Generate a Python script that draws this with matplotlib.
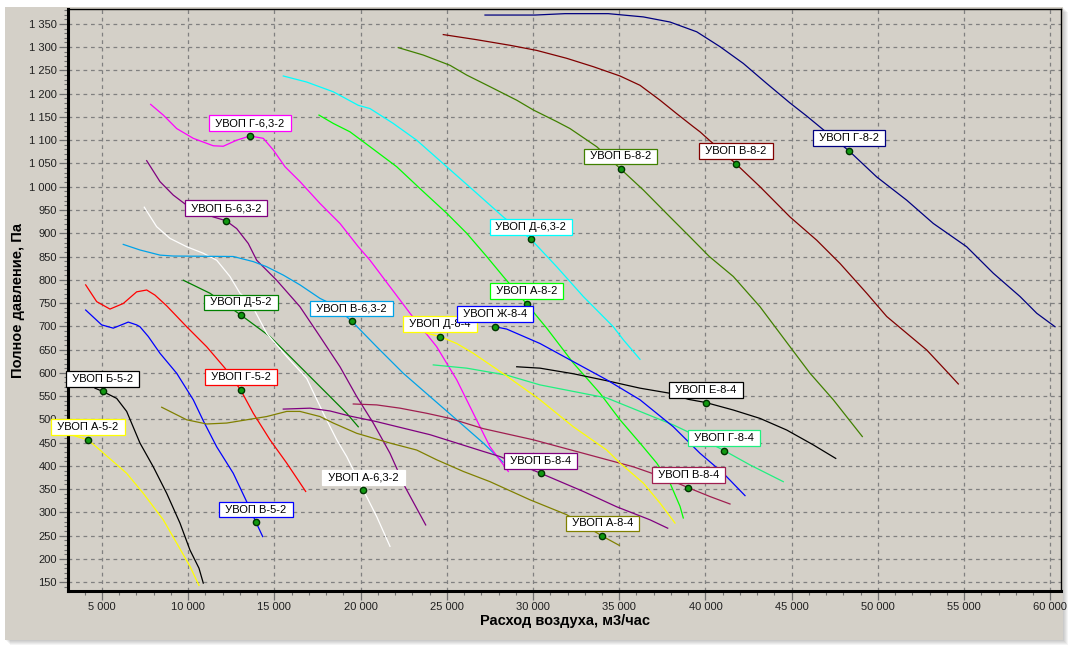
import matplotlib
matplotlib.use('Agg')
import matplotlib.pyplot as plt
from matplotlib.patches import Rectangle
from matplotlib.ticker import MultipleLocator, FuncFormatter

plt.rcParams['font.family'] = ['Liberation Sans', 'DejaVu Sans']

# Кривые вентиляторов: расход (м3/ч) и полное давление (Па)
a52_q = [3100, 4188, 4884, 6432, 7395, 8555, 9333, 10104, 10626]
a52_p = [468, 456, 434, 384, 341, 284, 234, 184, 143]

b52_q = [4594, 5040, 5853, 6432, 7204, 7975, 8753, 9524, 10104, 10626, 10875]
b52_p = [567, 560, 545, 517, 449, 398, 341, 277, 219, 180, 148]

v52_q = [4055, 4983, 5655, 6525, 7011, 7204, 7687, 8364, 9333, 10295, 10875,
         11653, 12615, 13393, 13932, 14320]
v52_p = [735, 703, 696, 709, 703, 699, 678, 642, 599, 542, 497,
         441, 384, 323, 279, 248]

g52_q = [4055, 4693, 5464, 6235, 7011, 7593, 8074, 8753, 9913, 11073, 12134,
         13045, 13777, 14744, 15713, 16815]
g52_p = [789, 753, 737, 749, 774, 778, 767, 744, 699, 656, 610,
         563, 513, 456, 406, 345]

d52_q = [9717, 11264, 13062, 14744, 15904, 17064, 18224, 19193, 19865]
d52_p = [799, 771, 724, 678, 635, 592, 549, 513, 484]

a632_q = [7453, 8173, 8944, 9913, 10875, 11653, 12424, 13004, 13584, 14553,
          15713, 16873, 17838, 18615, 19193, 20155, 20933, 21704]
a632_p = [956, 914, 889, 871, 857, 842, 807, 771, 753, 685,
          635, 588, 513, 456, 420, 348, 291, 227]

b632_q = [7593, 8364, 9135, 9814, 11455, 12192, 12813, 13485, 13973, 15131,
          16484, 17644, 18804, 19773, 20735, 21704, 22574, 23775]
b632_p = [1056, 1011, 982, 963, 935, 927, 910, 878, 842, 799,
          742, 678, 613, 549, 492, 427, 355, 273]

v632_q = [6235, 7204, 8364, 9135, 12615, 13777, 14553, 15517, 16484, 17644,
          18417, 19484, 20933, 22475, 24024, 25573, 27115, 28258]
v632_p = [876, 864, 853, 851, 850, 839, 828, 810, 789, 760,
          746, 711, 656, 599, 549, 499, 449, 408]

g632_q = [7823, 8555, 9333, 10295, 11455, 12035, 12813, 13584, 14356, 14936,
          15614, 16484, 17644, 18804, 19865, 20544, 21704, 22864, 24413, 25573,
          26535, 27504, 28566]
g632_p = [1177, 1154, 1125, 1104, 1088, 1087, 1100, 1109, 1104, 1079,
          1043, 1011, 964, 921, 871, 842, 785, 728, 656, 585,
          513, 441, 388]

d632_q = [15517, 16873, 18417, 19865, 20544, 21895, 23253, 24993, 26733, 28275,
          29882, 31373, 32915, 34655, 35237, 36204]
d632_p = [1238, 1225, 1204, 1175, 1168, 1136, 1100, 1043, 986, 935,
          887, 828, 764, 699, 671, 629]

a82_q = [17586, 18417, 19384, 20544, 22093, 23444, 24993, 26153, 27313, 28275,
         29633, 30793, 32337, 33884, 35044, 36204, 37173, 37944, 38524, 38715]
a82_p = [1154, 1136, 1118, 1086, 1043, 996, 943, 900, 850, 807,
         748, 696, 621, 556, 499, 449, 406, 363, 313, 288]

b82_q = [22185, 23635, 25184, 26153, 27504, 29053, 30015, 31373, 32144, 33693,
         35085, 36395, 37944, 39104, 40223, 41615, 43164, 44904, 46064, 47415,
         49097]
b82_p = [1299, 1283, 1261, 1240, 1215, 1186, 1165, 1140, 1125, 1086,
         1038, 993, 935, 892, 850, 807, 742, 656, 599, 542,
         463]

v82_q = [24795, 26733, 28664, 30213, 31953, 33495, 35044, 36204, 37364, 38333,
         39295, 39684, 40223, 40844, 41772, 43164, 44904, 46453, 47804, 49352,
         50513, 52833, 53993, 54665]
v82_p = [1327, 1316, 1304, 1293, 1276, 1258, 1238, 1218, 1186, 1157,
         1129, 1118, 1100, 1080, 1049, 1000, 935, 885, 835, 771,
         721, 649, 603, 576]

g82_q = [27214, 30114, 31854, 34365, 36395, 37944, 39493, 40844, 42195, 43549,
         44904, 45869, 48326, 49933, 51673, 53215, 55149, 56695, 58244, 59213,
         60274]
g82_p = [1369, 1369, 1372, 1372, 1365, 1354, 1333, 1301, 1265, 1222,
         1180, 1152, 1077, 1021, 971, 921, 871, 814, 764, 728,
         699]

a84_q = [8463, 9913, 11073, 12233, 13393, 14553, 15713, 16484, 17644, 18417,
         19773, 21704, 23253, 24413, 25955, 27504, 29824, 31953, 34017, 35004]
a84_p = [526, 499, 490, 492, 499, 506, 517, 517, 506, 492,
         470, 449, 434, 413, 388, 366, 327, 295, 249, 229]

b84_q = [15515, 17064, 18224, 19384, 20933, 22475, 24024, 25573, 27115, 28084,
         30445, 32915, 34851, 36784, 37811]
b84_p = [522, 524, 518, 507, 495, 481, 467, 449, 431, 420,
         384, 345, 312, 284, 266]

v84_q = [19575, 20933, 22284, 23833, 25184, 27115, 30015, 32915, 35815, 37750,
         39005, 40264, 41424]
v84_p = [533, 531, 524, 513, 502, 480, 456, 427, 398, 373,
         353, 334, 318]

g84_q = [24215, 26153, 28473, 30404, 32335, 34273, 36204, 38135, 39104, 41076,
         42584, 44515]
g84_p = [617, 610, 595, 574, 560, 546, 517, 488, 471, 433, 402, 366]

d84_q = [23833, 24604, 25573, 26535, 28473, 30404, 32335, 34273, 35044, 36395,
         37364, 38234]
d84_p = [685, 678, 663, 642, 593, 542, 484, 434, 406, 363, 320, 277]

e84_q = [29053, 30404, 32335, 34273, 36204, 37944, 39005, 40032, 41615, 43164,
         44713, 46257, 47555]
e84_p = [613, 610, 598, 583, 567, 556, 543, 536, 520, 502, 477, 445, 416]

zh84_q = [27794, 28473, 30404, 32335, 34273, 36204, 38135, 39684, 41037, 42294]
zh84_p = [699, 694, 663, 624, 585, 542, 484, 427, 384, 336]

# Подписи, рабочие точки и цвета
names = ['УВОП А-5-2', 'УВОП Б-5-2', 'УВОП В-5-2', 'УВОП Г-5-2', 'УВОП Д-5-2',
         'УВОП А-6,3-2', 'УВОП Б-6,3-2', 'УВОП В-6,3-2', 'УВОП Г-6,3-2',
         'УВОП Д-6,3-2', 'УВОП А-8-2', 'УВОП Б-8-2', 'УВОП В-8-2', 'УВОП Г-8-2',
         'УВОП А-8-4', 'УВОП Б-8-4', 'УВОП В-8-4', 'УВОП Г-8-4', 'УВОП Д-8-4',
         'УВОП Е-8-4', 'УВОП Ж-8-4']
curves = [(a52_q, a52_p), (b52_q, b52_p), (v52_q, v52_p), (g52_q, g52_p),
          (d52_q, d52_p), (a632_q, a632_p), (b632_q, b632_p), (v632_q, v632_p),
          (g632_q, g632_p), (d632_q, d632_p), (a82_q, a82_p), (b82_q, b82_p),
          (v82_q, v82_p), (g82_q, g82_p), (a84_q, a84_p), (b84_q, b84_p),
          (v84_q, v84_p), (g84_q, g84_p), (d84_q, d84_p), (e84_q, e84_p),
          (zh84_q, zh84_p)]
point_q = [4188, 5040, 13932, 13045, 13062, 20155, 12192, 19484, 13584, 29882,
           29633, 35085, 41772, 48326, 34017, 30445, 39005, 41076, 24604, 40032,
           27794]
point_p = [456, 560, 279, 563, 724, 348, 927, 711, 1109, 887,
           748, 1038, 1049, 1077, 249, 384, 353, 433, 678, 536,
           699]
colors = ['#FFFF00', '#000000', '#0000FF', '#FF0000', '#008000',
          '#FFFFFF', '#800080', '#00A2E8', '#FF00FF', '#00FFFF',
          '#00FF00', '#408000', '#800000', '#000080',
          '#808000', '#800080', '#A01E50', '#20F080', '#FFFF00',
          '#000000', '#0000FF']

grey = '#D4D0C8'
fig = plt.figure(figsize=(10.69, 6.47), dpi=100, facecolor='white')

# Серая панель с тенью
for i in range(1, 6):
    fig.patches.append(Rectangle((5 / 1069 + i / 1069, 7 / 647 - i / 647),
                                 1058 / 1069, 633 / 647, transform=fig.transFigure,
                                 facecolor='#000000', alpha=0.045, edgecolor='none',
                                 zorder=-2))
fig.patches.append(Rectangle((5 / 1069, 7 / 647), 1058 / 1069, 633 / 647,
                             transform=fig.transFigure, facecolor=grey,
                             edgecolor='none', zorder=-1))

ax = fig.add_axes([68 / 1069, 56 / 647, 993 / 1069, 582 / 647])
ax.set_facecolor(grey)

for (q, p), c in zip(curves, colors):
    ax.plot(q, p, color=c, lw=0.9, zorder=3)

ax.plot(point_q, point_p, 'o', ms=4.5, mfc='#119911', mec='#003300', mew=1,
        ls='none', zorder=5)

for name, q, p, c in zip(names, point_q, point_p, colors):
    ax.annotate(' ' + name + ' ', (q, p), xytext=(0, 5.5), textcoords='offset points',
                ha='center', va='bottom', fontsize=8, color='black', zorder=6,
                bbox=dict(boxstyle='square,pad=0.26', facecolor='white',
                          edgecolor=c, lw=0.9))

ax.set_xlim(3030, 60620)
ax.set_ylim(131, 1382)
ax.xaxis.set_major_locator(MultipleLocator(5000))
ax.xaxis.set_minor_locator(MultipleLocator(1000))
ax.yaxis.set_major_locator(MultipleLocator(50))
ax.yaxis.set_minor_locator(MultipleLocator(10))
fmt = FuncFormatter(lambda v, pos: f'{int(v):,}'.replace(',', ' '))
ax.xaxis.set_major_formatter(fmt)
ax.yaxis.set_major_formatter(fmt)

ax.grid(True, which='major', color='#808080', ls=(0, (3, 3)), lw=0.9)
ax.set_axisbelow(True)
ax.tick_params(which='major', length=6.5, width=0.9, color='#707070',
               labelsize=8, labelcolor='#202020', pad=1.5)
ax.tick_params(which='minor', length=3, width=0.8, color='#707070')

for side in ['left', 'bottom']:
    ax.spines[side].set_linewidth(2.2)
for side in ['top', 'right']:
    ax.spines[side].set_linewidth(1)

ax.set_xlabel('Расход воздуха, м3/час', fontsize=10.5, fontweight='bold')
ax.set_ylabel('Полное давление, Па', fontsize=10.5, fontweight='bold')
ax.xaxis.set_label_coords(0.5, -0.04)
ax.yaxis.set_label_coords(-0.043, 0.5)

fig.savefig('out.png', dpi=100, facecolor=fig.get_facecolor())
